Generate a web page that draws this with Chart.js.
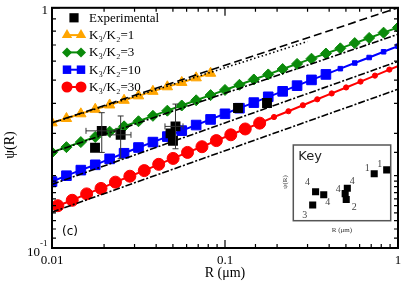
<!DOCTYPE html>
<html><head><meta charset="utf-8">
<script src="https://cdn.jsdelivr.net/npm/chart.js@4/dist/chart.umd.min.js"></script>
<style>
html,body{margin:0;padding:0;background:#fff;}
#wrap{position:relative;width:415px;height:291px;}
#main{position:absolute;left:0;top:0;}
#key{position:absolute;left:280px;top:140px;}
</style></head><body>
<div id="wrap"><canvas id="main" width="415" height="291"></canvas><canvas id="key" width="125" height="100"></canvas></div>
<script>
// ---------- data ----------
const seriesNames = ['Experimental','K₃/K₂=1','K₃/K₂=3','K₃/K₂=10','K₃/K₂=30'];
const xTitle = 'R (μm)';
const yTitle = 'ψ(R)';
const panelLabel = '(c)';
const keyTitle = 'Key';
const xTickValues = [0.01, 0.1, 1];
const xTickTexts = ['0.01', '0.1', '1'];
const yTickValues = [0.1, 1];
const yTickTexts = ['10', '1'];
const yTickSups = ['-1', ''];

const rK1 = [0.01,0.01212,0.01468,0.01778,0.02154,0.0261,0.03162,0.03831,0.04642,0.05623,0.06813,0.08254];
const psiK1 = [0.332,0.346,0.362,0.378,0.394,0.412,0.430,0.449,0.469,0.489,0.511,0.534];

const rK3 = [0.01,0.01212,0.01468,0.01778,0.02154,0.0261,0.03162,0.03831,0.04642,0.05623,0.06813,0.08254,0.1,0.1212,0.1468,0.1778,0.2154,0.261,0.3162,0.3831,0.4642,0.5623,0.6813,0.8254,1.0];
const psiK3 = [0.250,0.263,0.276,0.290,0.305,0.321,0.337,0.355,0.373,0.392,0.412,0.433,0.455,0.478,0.503,0.528,0.556,0.584,0.614,0.645,0.678,0.713,0.749,0.788,0.828];

const rK10 = [0.01,0.01212,0.01468,0.01778,0.02154,0.0261,0.03162,0.03831,0.04642,0.05623,0.06813,0.08254,0.1,0.1212,0.1468,0.1778,0.2154,0.261,0.3162,0.3831,0.4642,0.5623,0.6813,0.8254,1.0];
const psiK10 = [0.189,0.200,0.211,0.222,0.235,0.248,0.262,0.276,0.291,0.308,0.325,0.343,0.362,0.382,0.403,0.426,0.449,0.474,0.501,0.528,0.558,0.589,0.621,0.656,0.692];

const rK30 = [0.0108,0.01309,0.01586,0.0192,0.02327,0.02819,0.03415,0.04137,0.05013,0.06073,0.07358,0.08914,0.108,0.1309,0.1586,0.192,0.2327,0.2819,0.3415,0.4137,0.5013,0.6073,0.7358,0.8914,1.08];
const psiK30 = [0.150,0.158,0.168,0.177,0.188,0.199,0.210,0.223,0.236,0.250,0.264,0.280,0.296,0.313,0.331,0.351,0.371,0.393,0.416,0.440,0.466,0.493,0.522,0.553,0.585];

// black theory / asymptote lines
const rLine = [0.01, 1];
const psiDashK1 = [0.332, 1.0];
const rDotK1 = [0.01, 0.3];
const psiDotK1 = [0.332, 0.724];
const psiLineK3 = [0.250, 0.776];
const psiLineK10 = [0.184, 0.598];
const psiLineK30 = [0.141, 0.458];

// experimental points
const expR   = [0.01939,0.02494,0.01773,0.05174,0.04842,0.05004,0.1189,0.1749];
const expPsi = [0.3074,0.2959,0.2615,0.3208,0.3002,0.2795,0.3825,0.4013];
const expRLo   = [0.01572,0.02164,null,0.04498,null,null,null,null];
const expRHi   = [0.02344,0.02861,null,0.05717,null,null,null,null];
const expPsiLo = [0.2500,0.2354,null,0.2589,null,null,null,null];
const expPsiHi = [0.3659,0.3545,null,0.3974,null,null,null,null];
const keyLabels = ['4','4','3','4','4','2','1','1'];

// ---------- styles ----------
const SERIF = "'Liberation Serif','DejaVu Serif',serif";
const SANS = "'DejaVu Sans','Liberation Sans',sans-serif";
const ORANGE = '#ffa500', GREEN = '#0a8a0a', BLUE = '#0000ff', RED = '#ff0000';
const bigBlueUntil = 19, bigRedUntil = 14;

function pts(xs, ys){ return xs.map((x,i)=>({x:x, y:ys[i]})); }

function blackLine(xs, ys, dash){
  return {data: pts(xs, ys), showLine:true, borderColor:'#000', borderWidth:1.6, borderDash:dash,
          pointRadius:0, fill:false, order:1};
}

const datasets = [
  {label: seriesNames[0], legendRank:0, data: pts(expR, expPsi), showLine:false, pointStyle:'rect',
   pointRadius:7, backgroundColor:'#000', borderColor:'#000', pointBorderWidth:0, order:0, mk:6.5},
  {label: seriesNames[1], legendRank:1, data: pts(rK1, psiK1), showLine:true, pointStyle:'triangle',
   pointRadius:6, borderColor:ORANGE, backgroundColor:ORANGE, pointBorderColor:ORANGE, pointBorderWidth:1, borderWidth:2, order:2, mk:6},
  {label: seriesNames[2], legendRank:2, data: pts(rK3, psiK3), showLine:true, pointStyle:'rectRot',
   pointRadius:5.5, borderColor:GREEN, backgroundColor:GREEN, pointBorderColor:GREEN, pointBorderWidth:1, borderWidth:2, order:2, mk:5},
  {label: seriesNames[3], legendRank:3, data: pts(rK10, psiK10), showLine:true, pointStyle:'rect',
   pointRadius:(c)=> (c.dataIndex !== undefined && c.dataIndex <= bigBlueUntil) ? 6.8 : 3.2,
   borderColor:BLUE, backgroundColor:BLUE, pointBorderColor:BLUE, pointBorderWidth:1, borderWidth:2, order:2, mk:6},
  {label: seriesNames[4], legendRank:4, data: pts(rK30, psiK30), showLine:true, pointStyle:'circle',
   pointRadius:(c)=> (c.dataIndex !== undefined && c.dataIndex <= bigRedUntil) ? 6 : 2.6,
   borderColor:RED, backgroundColor:RED, pointBorderColor:RED, pointBorderWidth:1, borderWidth:2, order:2, mk:5.5},
  blackLine(rLine, psiDashK1, [8,4]),
  blackLine(rDotK1, psiDotK1, [1.5,2.5]),
  blackLine(rLine, psiLineK3, [7,2,2,2]),
  blackLine(rLine, psiLineK10, [7,2,2,2]),
  blackLine(rLine, psiLineK30, [7,2,2,2])
];

function marker(ctx, style, x, y, r, color){
  ctx.save(); ctx.fillStyle = color; ctx.beginPath();
  if (style === 'rect'){ const s = r*Math.SQRT1_2; ctx.rect(x-s, y-s, 2*s, 2*s); }
  else if (style === 'triangle'){ ctx.moveTo(x, y-r); ctx.lineTo(x+0.866*r, y+0.5*r); ctx.lineTo(x-0.866*r, y+0.5*r); ctx.closePath(); }
  else if (style === 'rectRot'){ ctx.moveTo(x-r, y); ctx.lineTo(x, y-r); ctx.lineTo(x+r, y); ctx.lineTo(x, y+r); ctx.closePath(); }
  else { ctx.arc(x, y, r, 0, Math.PI*2); }
  ctx.fill(); ctx.restore();
}

function isMajor(v){ const l = Math.log10(v); return Math.abs(l - Math.round(l)) < 1e-6; }

const decorPlugin = {
  id:'decor',
  afterDatasetsDraw(chart){
    const ctx = chart.ctx, xs = chart.scales.x, ys = chart.scales.y, a = chart.chartArea;
    ctx.save();
    ctx.beginPath(); ctx.rect(a.left, a.top, a.right-a.left, a.bottom-a.top); ctx.clip();
    ctx.strokeStyle = '#333'; ctx.lineWidth = 1;
    const cap = 3;
    for (let i = 0; i < expR.length; i++){
      const px = xs.getPixelForValue(expR[i]), py = ys.getPixelForValue(expPsi[i]);
      if (expPsiLo[i] != null){
        const y1 = ys.getPixelForValue(expPsiLo[i]), y2 = ys.getPixelForValue(expPsiHi[i]);
        ctx.beginPath(); ctx.moveTo(px, y1); ctx.lineTo(px, y2);
        ctx.moveTo(px-cap, y1); ctx.lineTo(px+cap, y1); ctx.moveTo(px-cap, y2); ctx.lineTo(px+cap, y2); ctx.stroke();
      }
      if (expRLo[i] != null){
        const x1 = xs.getPixelForValue(expRLo[i]), x2 = xs.getPixelForValue(expRHi[i]);
        ctx.beginPath(); ctx.moveTo(x1, py); ctx.lineTo(x2, py);
        ctx.moveTo(x1, py-cap); ctx.lineTo(x1, py+cap); ctx.moveTo(x2, py-cap); ctx.lineTo(x2, py+cap); ctx.stroke();
      }
    }
    ctx.restore();
  },
  afterDraw(chart){
    const ctx = chart.ctx, xs = chart.scales.x, ys = chart.scales.y, a = chart.chartArea;
    ctx.save();
    // tick marks (inward)
    ctx.strokeStyle = '#000'; ctx.lineWidth = 1.2;
    xs.ticks.forEach(t => {
      const p = xs.getPixelForValue(t.value), L = isMajor(t.value) ? 8 : 4;
      ctx.beginPath(); ctx.moveTo(p, a.bottom); ctx.lineTo(p, a.bottom-L);
      ctx.moveTo(p, a.top); ctx.lineTo(p, a.top+L); ctx.stroke();
    });
    ys.ticks.forEach(t => {
      const p = ys.getPixelForValue(t.value), L = isMajor(t.value) ? 8 : 4;
      ctx.beginPath(); ctx.moveTo(a.left, p); ctx.lineTo(a.left+L, p);
      ctx.moveTo(a.right, p); ctx.lineTo(a.right-L, p); ctx.stroke();
    });
    // frame
    ctx.lineWidth = 2; ctx.strokeRect(a.left, a.top, a.right-a.left, a.bottom-a.top);
    // y tick labels
    ctx.fillStyle = '#000'; ctx.textBaseline = 'middle';
    yTickValues.forEach((v, i) => {
      const p = ys.getPixelForValue(v);
      if (yTickSups[i]){
        ctx.font = '13px ' + SERIF; ctx.textAlign = 'right'; ctx.fillText(yTickTexts[i], a.left-12, p+5);
        ctx.font = '9px ' + SERIF; ctx.textAlign = 'left'; ctx.fillText(yTickSups[i], a.left-12, p-4);
      } else {
        ctx.font = '13px ' + SERIF; ctx.textAlign = 'right'; ctx.fillText(yTickTexts[i], a.left-4, p+3);
      }
    });
    // y title
    ctx.save(); ctx.translate(10, 145); ctx.rotate(-Math.PI/2);
    ctx.font = '14px ' + SERIF; ctx.textAlign = 'center'; ctx.textBaseline = 'middle';
    ctx.fillText(yTitle, 0, 0); ctx.restore();
    // panel label
    ctx.font = '12px ' + SANS; ctx.textAlign = 'left'; ctx.textBaseline = 'middle';
    ctx.fillText(panelLabel, a.left+10, a.bottom-16);
    // legend
    const items = chart.data.datasets.filter(d => d.legendRank !== undefined).sort((p,q)=>p.legendRank-q.legendRank);
    items.forEach((d, i) => {
      const y = a.top + 10 + i*17.3;
      const col = d.backgroundColor;
      if (!d.showLine){
        marker(ctx, d.pointStyle, 74, y, d.mk, col);
      } else {
        ctx.strokeStyle = col; ctx.lineWidth = 2; ctx.beginPath(); ctx.moveTo(67, y); ctx.lineTo(81, y); ctx.stroke();
        marker(ctx, d.pointStyle, 67, y, d.mk, col);
        marker(ctx, d.pointStyle, 81, y, d.mk, col);
      }
      ctx.fillStyle = '#000'; ctx.font = '13px ' + SERIF; ctx.textAlign = 'left'; ctx.textBaseline = 'middle';
      ctx.fillText(d.label, 89, y + 0.5);
    });
    ctx.restore();
  }
};

new Chart(document.getElementById('main'), {
  type:'scatter',
  data:{datasets: datasets},
  options:{
    responsive:false, animation:false, events:[],
    layout:{padding:{top:6, right:17, left:0, bottom:0}},
    scales:{
      x:{type:'logarithmic', min:0.01, max:1, position:'bottom',
        grid:{display:false, drawTicks:false}, border:{display:false},
        ticks:{autoSkip:false, maxRotation:0, minRotation:0, padding:5, color:'#000',
          font:{family:SERIF, size:13},
          callback:(v)=>{ const i = xTickValues.findIndex(t => Math.abs(t - v)/t < 1e-6); return i >= 0 ? xTickTexts[i] : ''; }},
        title:{display:true, text:xTitle, color:'#000', font:{family:SERIF, size:14}, padding:{top:0, bottom:9}},
        afterFit:(s)=>{ s.height = 43; }},
      y:{type:'logarithmic', min:0.1, max:1, position:'left',
        grid:{display:false, drawTicks:false}, border:{display:false},
        ticks:{display:false},
        afterFit:(s)=>{ s.width = 52; }}
    },
    plugins:{legend:{display:false}, tooltip:{enabled:false}}
  },
  plugins:[decorPlugin]
});

// ---------- inset key ----------
const keyLabelOffsets = [[-8,-9],[4,8],[-8,10],[5,-7],[-7,-4],[8,8],[-7,-5],[-7,-5]];
const keyPlugin = {
  id:'keyDecor',
  beforeDatasetsDraw(chart){
    const ctx = chart.ctx, a = chart.chartArea;
    ctx.save(); ctx.fillStyle = '#fff'; ctx.fillRect(a.left, a.top, a.right-a.left, a.bottom-a.top); ctx.restore();
  },
  afterDraw(chart){
    const ctx = chart.ctx, a = chart.chartArea, xs = chart.scales.x, ys = chart.scales.y;
    ctx.save();
    ctx.strokeStyle = '#555'; ctx.lineWidth = 1.5; ctx.strokeRect(a.left, a.top, a.right-a.left, a.bottom-a.top);
    ctx.fillStyle = '#222'; ctx.font = '13px ' + SANS; ctx.textAlign = 'left'; ctx.textBaseline = 'middle';
    ctx.fillText(keyTitle, a.left+5, a.top+12);
    ctx.fillStyle = '#444'; ctx.font = '10px ' + SERIF; ctx.textAlign = 'center';
    for (let i = 0; i < expR.length; i++){
      const px = xs.getPixelForValue(expR[i]), py = ys.getPixelForValue(expPsi[i]);
      ctx.fillText(keyLabels[i], px + keyLabelOffsets[i][0], py + keyLabelOffsets[i][1]);
    }
    ctx.fillStyle = '#333'; ctx.font = '7px ' + SERIF;
    ctx.fillText(xTitle, (a.left+a.right)/2, a.bottom+9);
    ctx.save(); ctx.translate(a.left-8, a.top+37); ctx.rotate(-Math.PI/2); ctx.fillText(yTitle, 0, 0); ctx.restore();
    ctx.restore();
  }
};

new Chart(document.getElementById('key'), {
  type:'scatter',
  data:{datasets:[{data: pts(expR, expPsi), pointStyle:'rect', pointRadius:5, backgroundColor:'#000', borderColor:'#000', pointBorderWidth:0}]},
  options:{
    responsive:false, animation:false, events:[],
    layout:{padding:{left:13.3, top:5, right:14.3, bottom:19.3}},
    scales:{
      x:{type:'logarithmic', display:false, min:0.00973, max:0.198},
      y:{type:'logarithmic', display:false, min:0.2158, max:0.5436}
    },
    plugins:{legend:{display:false}, tooltip:{enabled:false}}
  },
  plugins:[keyPlugin]
});
</script>
</body></html>
